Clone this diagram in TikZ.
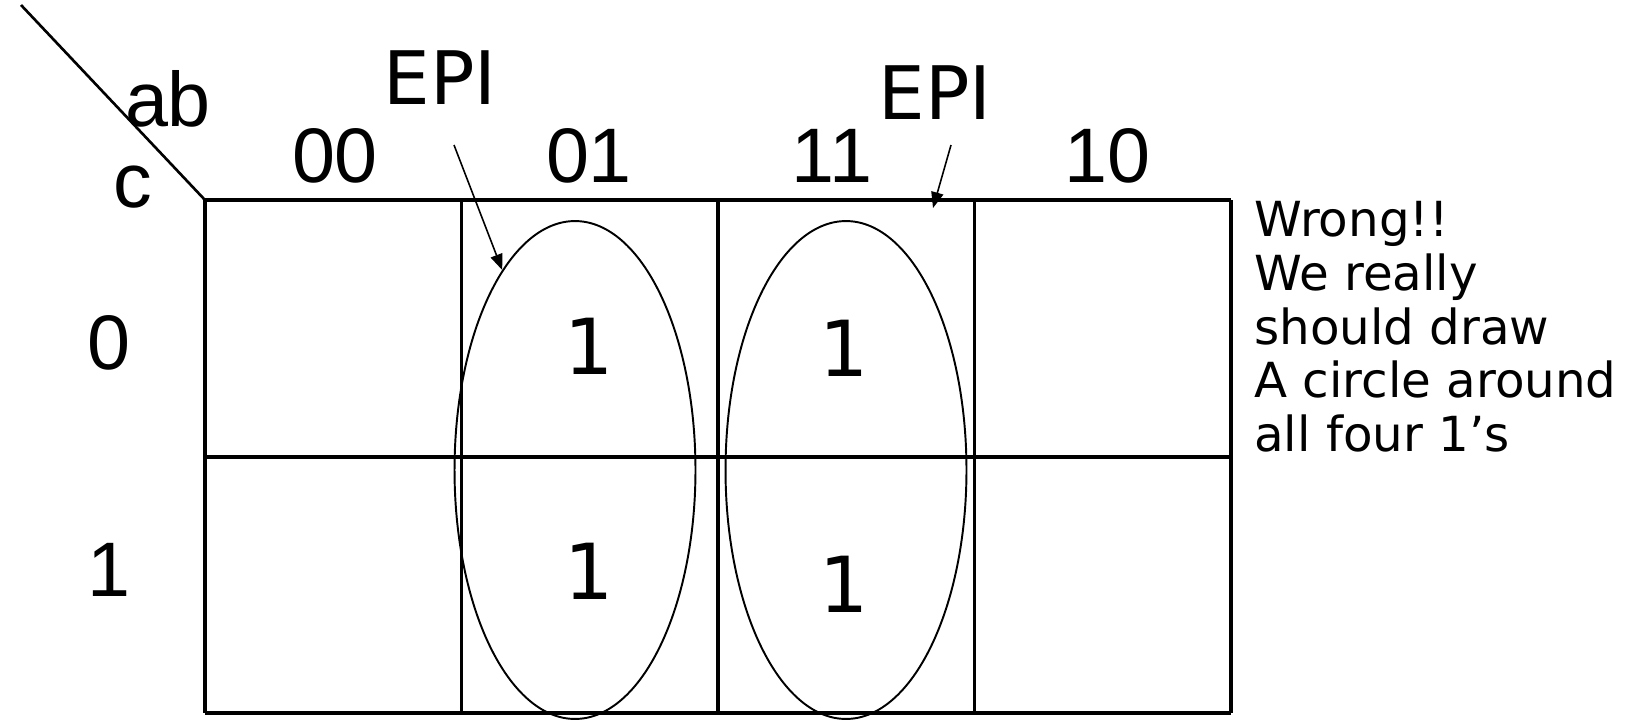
\documentclass[tikz,border=0pt]{standalone}
\usepackage{fontspec}
\setmainfont{Liberation Sans}
\newfontfamily\vfont{DejaVu Sans}
\usetikzlibrary{arrows.meta,shapes.geometric}

\begin{document}
\begin{tikzpicture}[x=0.02cm, y=-0.02cm,
  grid/.style={line width=1.8pt},
  lab/.style={font=\fontsize{44}{52}\selectfont, inner sep=0pt},
  one/.style={font=\vfont\fontsize{44}{52}\selectfont, inner sep=0pt},
  epi/.style={font=\vfont\fontsize{42}{50}\selectfont, inner sep=0pt},
  note/.style={font=\vfont\fontsize{27.5}{30.6}\selectfont, align=left, inner sep=0pt, anchor=north west},
  group/.style={draw, ellipse, line width=1.1pt, minimum width=4.82cm, minimum height=9.96cm, inner sep=0pt},
  arr/.style={-{Triangle[length=9pt,width=7pt]}, line width=0.9pt},
]
  \useasboundingbox (0,0) rectangle (1629,721);
  % map grid
  \draw[line width=1.5pt] (21,5) -- (205,200);
  \foreach \x in {205,461.5,718,974.5,1231} \draw[grid] (\x,200) -- (\x,713);
  \foreach \y in {200,457,713} \draw[grid] (205,\y) -- (1231,\y);

  % variable and index labels
  \node[lab] (ab) at (168,99) {ab};
  \node[lab] (c) at (133,187) {c};
  \node[lab] (col00) at (335,156) {00};
  \node[lab] (col01) at (589,156) {01};
  \node[lab] (col11) at (832,156) {11};
  \node[lab] (col10) at (1107,156) {10};
  \node[lab] (row0) at (109,343) {0};
  \node[lab] (row1) at (109,570) {1};

  % minterms
  \node[one] (m2) at (589,346) {1};
  \node[one] (m6) at (844,348) {1};
  \node[one] (m3) at (589,571) {1};
  \node[one] (m7) at (844,584) {1};

  % groups
  \node[group] (gA) at (575,470) {};
  \node[group] (gB) at (846,470) {};

  \node[epi] (epiA) at (440,78) {EPI};
  \node[epi] (epiB) at (935,93) {EPI};
  \coordinate (tailA) at (454,145);
  \coordinate (tailB) at (951,145);
  \coordinate (tipB) at (933,208);
  \draw[arr] (tailA) -- (gA.110);
  \draw[arr] (tailB) -- (tipB);

  \node[note] (remark) at (1254,201) {Wrong!!\\We really\\should draw\\A circle around\\all four 1’s};
\end{tikzpicture}
\end{document}
